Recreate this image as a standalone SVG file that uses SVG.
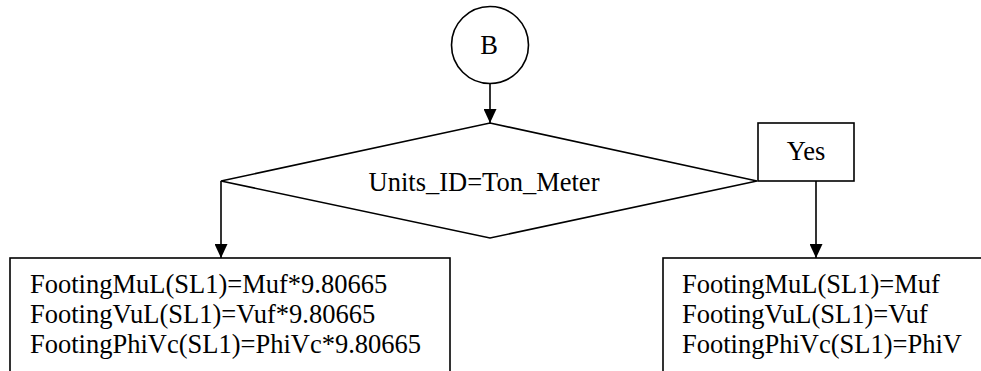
<svg xmlns="http://www.w3.org/2000/svg" width="981" height="371" viewBox="0 0 981 371">
<defs>
<style>
.s{fill:#fff;stroke:#000;stroke-width:1.6}
.t{font-family:"Liberation Serif","Times New Roman",serif;font-size:26.5px;fill:#000}
.c{stroke:#000;stroke-width:1.6;fill:none}
</style>
<marker id="ah" markerWidth="14" markerHeight="13" refX="14" refY="6.5" orient="auto" markerUnits="userSpaceOnUse" viewBox="0 0 14 13">
<path d="M0,0 L14,6.5 L0,13 z" fill="#000"/>
</marker>
</defs>
<rect width="981" height="371" fill="#fff"/>
<g id="connectors">
<line class="c" x1="490" y1="84" x2="490" y2="123" marker-end="url(#ah)"/>
<line class="c" x1="221" y1="181" x2="221" y2="258" marker-end="url(#ah)"/>
<line class="c" x1="816" y1="181" x2="816" y2="258" marker-end="url(#ah)"/>
</g>
<g id="nodeB">
<circle class="s" cx="490" cy="45" r="38.5"/>
<text class="t" x="489" y="54" text-anchor="middle">B</text>
</g>
<g id="decision">
<polygon class="s" points="490,123 757,181 490,238 221,181"/>
<text class="t" x="484" y="191" text-anchor="middle">Units_ID=Ton_Meter</text>
</g>
<g id="yes">
<rect class="s" x="758" y="123" width="96" height="58"/>
<text class="t" x="806" y="160" text-anchor="middle">Yes</text>
</g>
<g id="leftBox">
<rect class="s" x="10" y="258" width="440" height="125"/>
<text class="t" x="30" y="293">FootingMuL(SL1)=Muf*9.80665</text>
<text class="t" x="30" y="323">FootingVuL(SL1)=Vuf*9.80665</text>
<text class="t" x="30" y="353">FootingPhiVc(SL1)=PhiVc*9.80665</text>
</g>
<g id="rightBox">
<rect class="s" x="663" y="258" width="340" height="125"/>
<text class="t" x="682" y="293">FootingMuL(SL1)=Muf</text>
<text class="t" x="682" y="323">FootingVuL(SL1)=Vuf</text>
<text class="t" x="682" y="353">FootingPhiVc(SL1)=PhiV</text>
</g>
</svg>
